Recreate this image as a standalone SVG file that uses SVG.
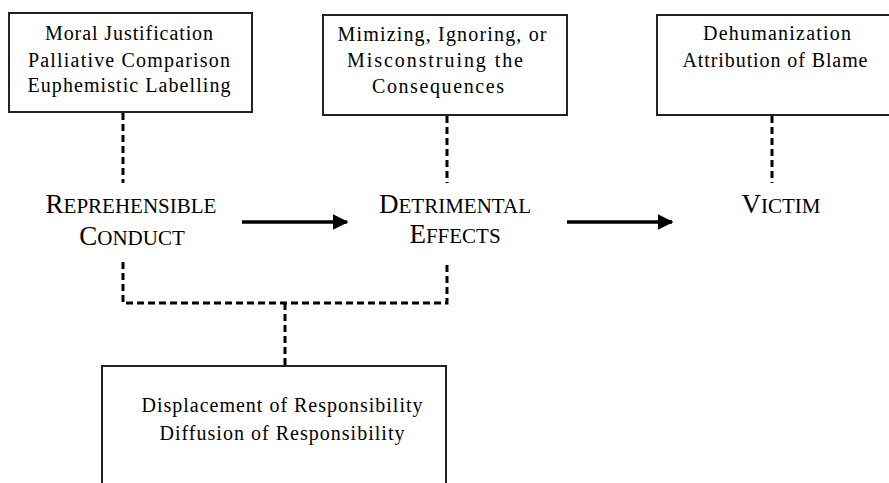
<svg xmlns="http://www.w3.org/2000/svg" width="889" height="483" viewBox="0 0 889 483">
<style>
.box{fill:#fff;stroke:#222;stroke-width:2}
.t{font-family:"Liberation Serif","Times New Roman","DejaVu Serif",serif;font-size:20px;fill:#000;text-anchor:middle}
.lab{font-family:"Liberation Serif","Times New Roman","DejaVu Serif",serif;fill:#000;text-anchor:middle}
.big{font-size:27px}
.sm{font-size:21px}
.dash{fill:none;stroke:#000;stroke-width:3;stroke-dasharray:7 4}
.arr{fill:none;stroke:#000;stroke-width:3.5}
</style>
<defs>
<marker id="ah" viewBox="0 0 10 10" refX="9" refY="5" markerWidth="4.5" markerHeight="4.5" orient="auto" markerUnits="strokeWidth">
<path d="M0,0 L10,5 L0,10 z" fill="#000"/>
</marker>
</defs>
<rect width="889" height="483" fill="#fff"/>
<g id="connectors">
<path class="dash" d="M123,113 V183"/>
<path class="dash" d="M447,116 V183"/>
<path class="dash" d="M772,116 V183"/>
<path class="dash" d="M123,262 V303 H447 V262"/>
<path class="dash" d="M285,303 V366"/>
<path class="arr" d="M242,222 H347" marker-end="url(#ah)"/>
<path class="arr" d="M567,222 H672" marker-end="url(#ah)"/>
</g>
<g id="box-moral">
<rect class="box" x="9" y="13" width="243" height="99"/>
<text class="t" x="129" y="40" textLength="168">Moral Justification</text>
<text class="t" x="129" y="67" textLength="202">Palliative Comparison</text>
<text class="t" x="129" y="92" textLength="203">Euphemistic Labelling</text>
</g>
<g id="box-minimizing">
<rect class="box" x="323" y="15" width="244" height="100"/>
<text class="t" x="442" y="41" textLength="209">Mimizing, Ignoring, or</text>
<text class="t" x="435" y="67" textLength="176">Misconstruing the</text>
<text class="t" x="438" y="93" textLength="132">Consequences</text>
</g>
<g id="box-dehumanization">
<rect class="box" x="657" y="15" width="240" height="100"/>
<text class="t" x="777" y="40" textLength="148">Dehumanization</text>
<text class="t" x="775" y="67" textLength="185">Attribution of Blame</text>
</g>
<g id="reprehensible-conduct">
<text class="lab" x="131" y="213"><tspan class="big">R</tspan><tspan class="sm">EPREHENSIBLE</tspan></text>
<text class="lab" x="132" y="245"><tspan class="big">C</tspan><tspan class="sm">ONDUCT</tspan></text>
</g>
<g id="detrimental-effects">
<text class="lab" x="455" y="213"><tspan class="big">D</tspan><tspan class="sm">ETRIMENTAL</tspan></text>
<text class="lab" x="455" y="243"><tspan class="big">E</tspan><tspan class="sm">FFECTS</tspan></text>
</g>
<g id="victim">
<text class="lab" x="781" y="213"><tspan class="big">V</tspan><tspan class="sm">ICTIM</tspan></text>
</g>
<g id="box-displacement">
<rect class="box" x="102" y="366" width="344" height="130"/>
<text class="t" x="282" y="412" textLength="281">Displacement of Responsibility</text>
<text class="t" x="282" y="440" textLength="245">Diffusion of Responsibility</text>
</g>
</svg>
